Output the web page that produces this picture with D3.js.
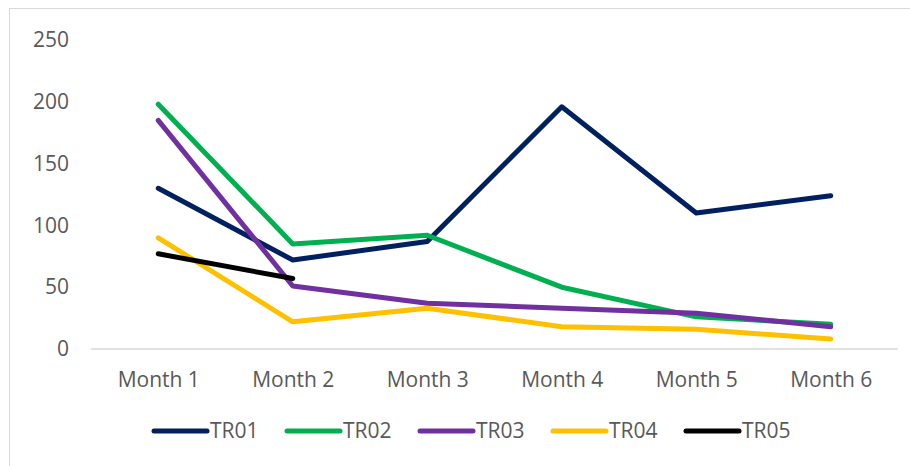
<!DOCTYPE html>
<html>
<head>
<meta charset="utf-8">
<script src="https://cdn.jsdelivr.net/npm/d3@7"></script>
<style>
  body { margin: 0; background: #fff; }
  text { font-family: "Open Sans", sans-serif; fill: #595959; }
</style>
</head>
<body>
<div id="container"></div>
<script>
const WIDTH = 910;
const HEIGHT = 466;

const months = ["Month 1", "Month 2", "Month 3", "Month 4", "Month 5", "Month 6"];
const yTicks = [0, 50, 100, 150, 200, 250];

const tr01 = [130, 72, 87, 196, 110, 124];
const tr02 = [198, 85, 92, 50, 26, 20];
const tr03 = [185, 51, 37, 33, 29, 18];
const tr04 = [90, 22, 33, 18, 16, 8];
const tr05 = [77, 57];

const seriesNames = ["TR01", "TR02", "TR03", "TR04", "TR05"];
const seriesValues = [tr01, tr02, tr03, tr04, tr05];
const colors = ["#002060", "#00B050", "#7030A0", "#FFC000", "#000000"];

const svg = d3
  .select("#container")
  .append("svg")
  .attr("width", WIDTH)
  .attr("height", HEIGHT);

// chart frame (right/bottom edges fall outside the picture)
svg
  .append("rect")
  .attr("x", 9.5)
  .attr("y", 8.5)
  .attr("width", 1000)
  .attr("height", 1000)
  .style("fill", "none")
  .style("stroke", "#D9D9D9");

const xScale = d3.scalePoint().domain(months).range([91, 898]).padding(0.5);
const yScale = d3.scaleLinear().domain([0, 250]).range([349, 40]);

// x axis
const xAxis = svg
  .append("g")
  .attr("transform", "translate(0,349)")
  .call(d3.axisBottom(xScale).tickSize(0).tickPadding(0));
xAxis.select(".domain").attr("d", "M91,0H898").style("stroke", "#D9D9D9").style("stroke-width", 1.5);
xAxis
  .selectAll(".tick text")
  .attr("y", 31)
  .attr("dy", "0.35em")
  .style("font-size", "21px")
  .style("font-family", "Open Sans")
  .style("fill", "#595959");

// y axis (labels only)
const yAxis = svg
  .append("g")
  .attr("transform", "translate(69,0)")
  .call(d3.axisLeft(yScale).tickValues(yTicks).tickSize(0).tickPadding(0));
yAxis.select(".domain").remove();
yAxis
  .selectAll(".tick text")
  .style("font-size", "21px")
  .style("font-family", "Open Sans")
  .style("fill", "#595959");

const line = d3
  .line()
  .x((d, i) => xScale(months[i]))
  .y(d => yScale(d));

seriesValues.forEach((vals, k) => {
  svg
    .append("path")
    .datum(vals)
    .attr("d", line)
    .style("fill", "none")
    .style("stroke", colors[k])
    .style("stroke-width", 5)
    .style("stroke-linecap", "round")
    .style("stroke-linejoin", "round");
});

// LEGEND
const legend = svg.append("g").attr("class", "legend");
seriesNames.forEach((name, k) => {
  const x0 = 152 + k * 133;
  legend
    .append("line")
    .attr("x1", x0 + 2)
    .attr("x2", x0 + 55)
    .attr("y1", 431)
    .attr("y2", 431)
    .style("stroke", colors[k])
    .style("stroke-width", 5)
    .style("stroke-linecap", "round");
  legend
    .append("text")
    .attr("x", x0 + 58)
    .attr("y", 431)
    .attr("dy", "0.35em")
    .style("font-size", "21px")
    .text(name);
});
</script>
</body>
</html>
